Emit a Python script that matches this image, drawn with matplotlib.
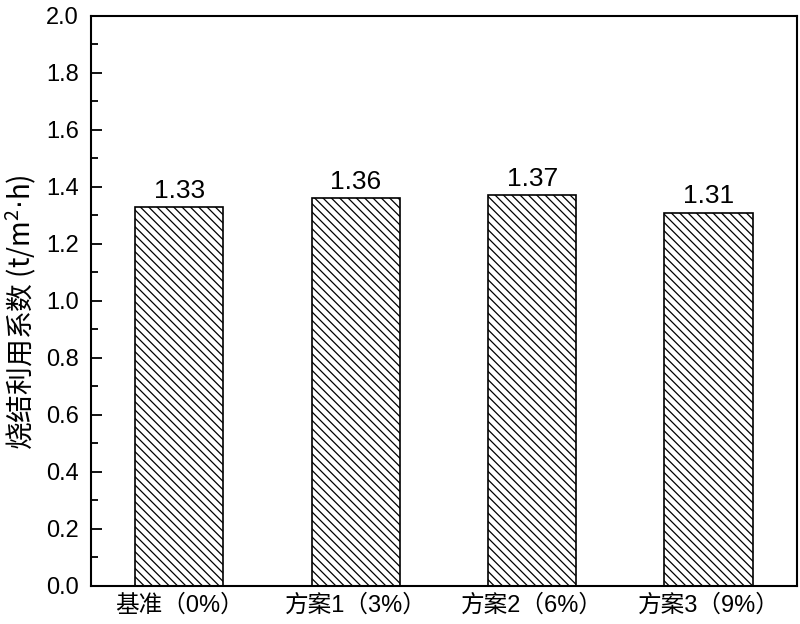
import matplotlib
matplotlib.use("Agg")
import matplotlib.pyplot as plt
from matplotlib.ticker import MultipleLocator

plt.rcParams['font.family'] = ['Liberation Sans', 'Noto Sans CJK SC', 'DejaVu Sans']
plt.rcParams['hatch.linewidth'] = 0.9
plt.rcParams['hatch.color'] = '#333333'

# data
schemes = ["基准（0%）", "方案1（3%）", "方案2（6%）", "方案3（9%）"]
coef = [1.33, 1.36, 1.37, 1.31]

fig = plt.figure(figsize=(8, 6.24), dpi=100)
ax = fig.add_axes([0.114, 0.061, 0.882, 0.9135])

x = list(range(len(schemes)))
bars = ax.bar(x, coef, width=0.5, color='white', edgecolor='black',
              linewidth=1.2, hatch='\\\\\\\\')

for b, v in zip(bars, coef):
    ax.annotate(f"{v:.2f}", (b.get_x() + b.get_width() / 2, v),
                xytext=(0, 3), textcoords='offset points',
                ha='center', va='bottom', fontsize=19)

ax.set_xlim(-0.5, 3.5)
ax.set_ylim(0, 2.0)
ax.set_xticks(x)
ax.set_xticklabels(schemes, fontsize=17)
ax.yaxis.set_minor_locator(MultipleLocator(0.1))
ax.set_yticks([i * 0.2 for i in range(11)])
ax.set_yticklabels([f"{i * 0.2:.1f}" for i in range(11)])
ax.tick_params(axis='y', which='major', direction='in', length=8, width=1.3,
               labelsize=17, pad=9)
ax.tick_params(axis='y', which='minor', direction='in', length=5, width=1.3)
ax.tick_params(axis='x', length=0, pad=6)

ax.set_ylabel(r"烧结利用系数 (t/m$^\mathregular{2}$$\cdot$h)", fontsize=20,
              family='Noto Sans CJK SC')
ax.yaxis.set_label_coords(-0.074, 0.48)

for s in ax.spines.values():
    s.set_linewidth(1.5)

fig.savefig("out.png", dpi=100)
